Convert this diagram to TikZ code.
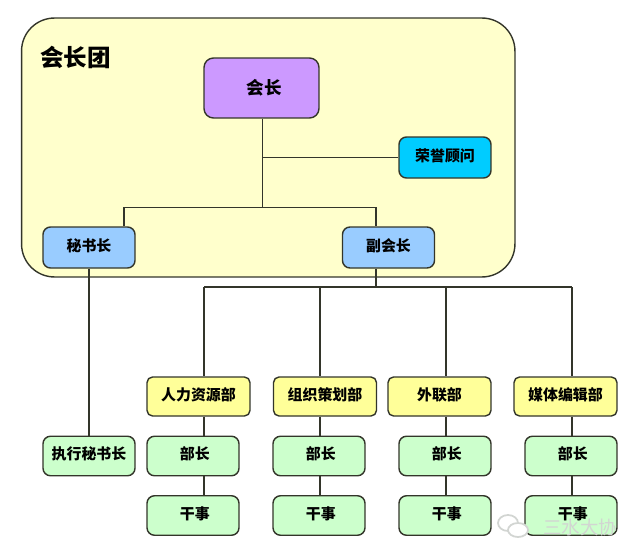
\documentclass[tikz,border=0pt]{standalone}
\usepackage{fontspec}
\setmainfont{Noto Sans CJK SC}
\usepackage{tikz}
\usepackage{xcolor}
\usetikzlibrary{calc}
\definecolor{teamfill}{HTML}{FFFFCC}
\definecolor{headfill}{HTML}{CC99FF}
\definecolor{honorfill}{HTML}{00CCFF}
\definecolor{vicefill}{HTML}{99CCFF}
\definecolor{deptfill}{HTML}{FFFF99}
\definecolor{staffill}{HTML}{CCFFCC}
\definecolor{linecol}{HTML}{33352A}
\definecolor{markcol}{HTML}{D2D5D2}
\tikzset{
    box/.style={draw=linecol, line width=0.8pt, rounded corners=1.5mm, inner sep=0pt, font=\fontsize{8.5}{10}\selectfont\bfseries, text=black, text height=7pt, text depth=3pt},
    vice/.style={box, fill=vicefill, minimum width=1.84cm, minimum height=0.82cm},
    dept/.style={box, fill=deptfill, minimum width=2.06cm, minimum height=0.78cm, rounded corners=1.1mm},
    staff/.style={box, fill=staffill, minimum width=1.84cm, minimum height=0.79cm},
    member/.style={staff, execute at begin node={\hspace{2pt}}},
    wire/.style={draw=linecol, line width=0.8pt}
}
\begin{document}
\begin{tikzpicture}[x=0.02cm, y=-0.02cm]
    \useasboundingbox (0, 0) rectangle (640, 555);
    \node[draw=linecol, line width=0.8pt, fill=teamfill, rounded corners=0.66cm, minimum width=9.87cm, minimum height=5.18cm, inner sep=0pt] (team) at (268.25, 147.5) {};
    \node[font=\fontsize{13.4}{15}\selectfont\bfseries] (teamname) at (75.5, 57) {会长团};

    \node[box, fill=headfill, minimum width=2.3cm, minimum height=1.2cm, rounded corners=1.9mm, font=\fontsize{10}{12}\selectfont\bfseries, text height=8pt, text depth=1pt] (head) at (261.5, 88) {\hspace{3pt}会长};
    \node[box, fill=honorfill, minimum width=1.84cm, minimum height=0.82cm] (honor) at (445, 157.5) {荣誉顾问};
    \node[vice] (sec) at (89, 247.5) {秘书长};
    \node[vice] (vp) at (388.5, 247.5) {副会长};

    \node[staff] (execsec) at (89, 456) {执行秘书长};

    \node[dept] (hr) at (198.5, 396.5) {人力资源部};
    \node[dept] (plan) at (325, 396.5) {组织策划部};
    \node[dept] (liaison) at (439.5, 396.5) {外联部};
    \node[dept] (media) at (565.5, 396.5) {媒体编辑部};

    \node[member] (hrhead) at (193, 456) {部长};
    \node[member] (planhead) at (319, 456) {部长};
    \node[member] (liaisonhead) at (445, 456) {部长};
    \node[member] (mediahead) at (571, 456) {部长};

    \node[member] (hrclerk) at (193, 515.5) {干事};
    \node[member] (planclerk) at (319, 515.5) {干事};
    \node[member] (liaisonclerk) at (445, 515.5) {干事};
    \node[member] (mediaclerk) at (571, 515.5) {干事};

    \coordinate (topbus) at (262.5, 207.5);
    \coordinate (vpdrop) at (376, 207.5);
    \coordinate (secdrop) at (124, 207.5);
    \coordinate (deptbus) at (376, 287);
    \coordinate (hrbus) at (204, 287);
    \coordinate (planbus) at (320, 287);
    \coordinate (liaisonbus) at (446, 287);
    \coordinate (mediabus) at (572, 287);

    \draw[wire]
    (head.south -| topbus) -- (topbus)
    (topbus |- honor.west) -- (honor.west)
    (secdrop |- sec.north) -- (secdrop) -- (vpdrop) -- (vpdrop |- vp.north)
    (sec.south) -- (execsec.north)
    (vp.south -| deptbus) -- (deptbus)
    (hrbus) -- (mediabus)
    (hrbus) -- (hrbus |- hr.north)
    (planbus) -- (planbus |- plan.north)
    (liaisonbus) -- (liaisonbus |- liaison.north)
    (mediabus) -- (mediabus |- media.north)
    (hrbus |- hr.south) -- (hrbus |- hrhead.north)
    (hrbus |- hrhead.south) -- (hrbus |- hrclerk.north)
    (planbus |- plan.south) -- (planbus |- planhead.north)
    (planbus |- planhead.south) -- (planbus |- planclerk.north)
    (liaisonbus |- liaison.south) -- (liaisonbus |- liaisonhead.north)
    (liaisonbus |- liaisonhead.south) -- (liaisonbus |- liaisonclerk.north)
    (mediabus |- media.south) -- (mediabus |- mediahead.north)
    (mediabus |- mediahead.south) -- (mediabus |- mediaclerk.north);

    % watermark
    \draw[markcol, line width=1pt, fill=white] (508, 523) ellipse (10 and 8);
    \draw[markcol, line width=1pt, fill=white] (518, 530) ellipse (10 and 7);
    \node[text=markcol, font=\fontsize{10.5}{12}\selectfont, text height=7pt, text depth=1pt] (mark) at (580, 529) {三水大协};
\end{tikzpicture}
\end{document}
